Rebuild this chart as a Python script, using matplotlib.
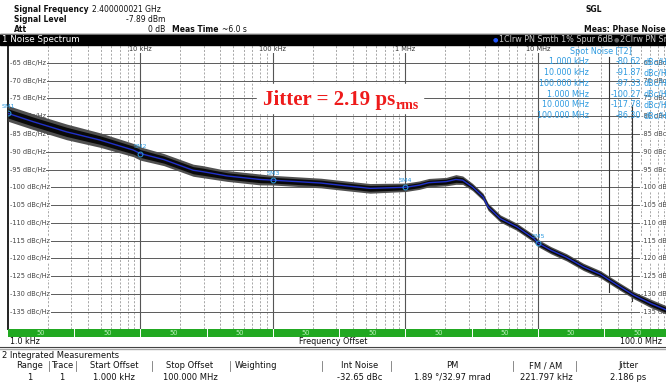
import matplotlib
matplotlib.use("Agg")
import matplotlib.pyplot as plt
import matplotlib.transforms as mtransforms
import numpy as np

W, H = 666, 385

# measured phase noise trace (offset in Hz, level in dBc/Hz) and the
# half-width of the raw noisy trace around it
offset_hz = [1e3, 1.54e3, 2.77e3, 4.95e3, 8.8e3, 1e4, 1.5e4, 2.5e4, 2.95e4,
             4.5e4, 8e4, 1e5, 2.3e5, 3.2e5, 5.4e5, 1e6, 1.27e6, 1.5e6,
             2.03e6, 2.4e6, 2.7e6, 3.2e6, 3.85e6, 4.2e6, 5.2e6, 6.9e6,
             9.3e6, 1e7, 1.25e7, 1.64e7, 2.2e7, 2.96e7, 4e7, 5.3e7, 7.1e7,
             9.4e7, 1e8]
trace_db = [-79.2, -81.5, -84.4, -86.7, -89.5, -90.5, -92.2, -95.2, -95.6,
            -96.8, -97.8, -98.0, -98.8, -99.4, -100.3, -100.0, -99.4, -98.7,
            -98.4, -97.8, -98.0, -99.9, -102.7, -105.5, -108.8, -111.1,
            -114.4, -115.7, -117.7, -119.7, -122.4, -124.5, -127.6, -130.4,
            -132.7, -134.6, -135.0]
spread_db = [1.3, 1.3, 1.3, 1.2, 1.1, 1.1, 1.0, 1.0, 1.0,
             0.9, 0.9, 0.8, 0.8, 0.8, 0.8, 0.7, 0.7, 0.7,
             0.7, 0.8, 0.7, 0.6, 0.6, 0.6, 0.6, 0.6,
             0.6, 0.6, 0.6, 0.6, 0.6, 0.6, 0.6, 0.6,
             0.7, 0.7, 0.7]

marker_names = ["SM1", "SM2", "SM3", "SM4", "SM5"]
marker_hz = [1e3, 1e4, 1e5, 1e6, 1e7]
marker_db = [-79.2, -90.5, -98.0, -100.0, -115.7]

spot_freqs = ["1.000 kHz", "10.000 kHz", "100.000 kHz",
              "1.000 MHz", "10.000 MHz", "100.000 MHz"]
spot_values = [-80.62, -91.87, -97.33, -100.27, -117.78, -86.30]

decade_hz = [1e4, 1e5, 1e6, 1e7]
decade_labels = ["10 kHz", "100 kHz", "1 MHz", "10 MHz"]
level_ticks = list(range(-65, -136, -5))
segment_labels = ["50"] * 10

table_header = ["Range", "Trace", "Start Offset", "Stop Offset", "Weighting",
                "Int Noise", "PM", "FM / AM", "Jitter"]
table_row = ["1", "1", "1.000 kHz", "100.000 MHz", "",
             "-32.65 dBc", "1.89 \u00b0/32.97 mrad", "221.797 kHz", "2.186 ps"]

jitter_ps = 2.19

CYAN = "#2f9be0"
plt.rcParams["font.family"] = ["DejaVu Sans"]


def px_box(x0, y0, x1, y1):
    return [x0 / W, 1 - y1 / H, (x1 - x0) / W, (y1 - y0) / H]


fig = plt.figure(figsize=(W / 100, H / 100), dpi=100)
fig.patch.set_facecolor("white")

# main spectrum axes, 1 kHz .. 100 MHz, -140 .. -60 dBc/Hz
ax = fig.add_axes(px_box(8, 45.2, 670.5, 329.4))
ax.set_xscale("log")
ax.set_xlim(1e3, 1e8)
ax.set_ylim(-140, -60)
ax.set_xticks([])
ax.set_yticks([])
ax.minorticks_off()
for s in ["top", "right", "bottom"]:
    ax.spines[s].set_visible(False)
ax.spines["left"].set_color("#222")
ax.spines["left"].set_linewidth(1.4)

# overlay in pixel coordinates for the instrument chrome
ov = fig.add_axes([0, 0, 1, 1], zorder=5)
ov.set_xlim(0, W)
ov.set_ylim(H, 0)
ov.axis("off")

px_x_lvl_y = mtransforms.blended_transform_factory(ov.transData, ax.transData)
px_x_ax_y = mtransforms.blended_transform_factory(ov.transData, ax.transAxes)

# grid
for dec in range(3, 8):
    for m in range(2, 10):
        ax.axvline(m * 10 ** dec, color="#9a9a9a", lw=0.6,
                   ls=(0, (2.5, 2)), zorder=1)
for f in decade_hz:
    ax.axvline(f, color="#555", lw=0.8, zorder=1)
for v in level_ticks:
    if v % 20 == -10:
        ax.axhline(v, color="#bdbdbd", lw=1.8, zorder=1)
    else:
        ax.axhline(v, color="#5a5a5a", lw=0.7, zorder=1)

# second window lines and labels peeking through on the right
ax.plot([609, 609], [0.13, 0.96], transform=px_x_ax_y, color="#333",
        lw=0.8, zorder=1)
ax.plot([632, 632], [0.10, 0.79], transform=px_x_ax_y, color="#333",
        lw=0.8, zorder=1)
for v in level_ticks:
    ax.text(641, v, "%d dBc/Hz" % v, transform=px_x_lvl_y, fontsize=4.8,
            color="#444", ha="left", va="center", zorder=2,
            bbox=dict(facecolor="white", edgecolor="none", pad=0.4))

# level labels
for v in level_ticks:
    ax.text(10, v, "%d dBc/Hz" % v, transform=px_x_lvl_y, fontsize=4.8,
            color="#444", ha="left", va="center", zorder=2,
            bbox=dict(facecolor="white", edgecolor="none", pad=0.4))
for f, lab in zip(decade_hz, decade_labels):
    ax.text(f, 0.985, lab, transform=ax.get_xaxis_transform(), fontsize=4.8,
            color="#333", ha="center", va="center", zorder=2,
            bbox=dict(facecolor="white", edgecolor="none", pad=0.4))

# trace: raw noise band with smoothed trace on top
tr = np.array(trace_db)
sp = np.array(spread_db)
ax.fill_between(offset_hz, tr - 1.7 * sp, tr + 1.7 * sp, color="#505050",
                lw=0, zorder=3)
ax.fill_between(offset_hz, tr - sp, tr + sp, color="#0a0a0a", lw=0, zorder=3)
ax.plot(offset_hz, trace_db, color="#2030c8", lw=1.0, zorder=4)

# markers
ax.plot(marker_hz, marker_db, ls="none", marker="o", ms=3.5, mfc="none",
        mec=CYAN, mew=0.7, zorder=5)
for name, f, v in zip(marker_names, marker_hz, marker_db):
    ax.annotate(name, (f, v), xytext=(0, 5), textcoords="offset points",
                fontsize=4.6, color=CYAN, ha="center", va="center", zorder=5)

# spot noise readout
ov.text(601, 51, "Spot Noise [T2]", fontsize=5.8, color=CYAN, ha="center",
        va="center")
for i, (fl, val) in enumerate(zip(spot_freqs, spot_values)):
    y = 61.7 + i * 10.8
    ov.text(589, y, fl, fontsize=5.8, color=CYAN, ha="right", va="center")
    ov.text(641, y, "%.2f" % val, fontsize=5.8, color=CYAN, ha="right",
            va="center")
    ov.text(643, y, "dBc/Hz", fontsize=5.8, color=CYAN, ha="left",
            va="center")

# jitter annotation
ov.add_patch(plt.Rectangle((257, 84), 166, 29, color="white", zorder=3))
jt = ov.text(263, 105, "Jitter = %.2f ps" % jitter_ps, color="#ee1b1b",
             fontsize=15, fontweight="bold", family="Liberation Serif",
             ha="left", va="baseline", zorder=4)
fig.canvas.draw()
bb = jt.get_window_extent()
ov.text(bb.x1 + 0.5, 109, "rms", color="#ee1b1b", fontsize=10,
        fontweight="bold", family="Liberation Serif", ha="left",
        va="baseline", zorder=4)

# header block
hdr = dict(fontsize=5.5, color="#111", va="center")
ov.text(14, 9, "Signal Frequency", fontweight="bold", ha="left", **hdr)
ov.text(92, 9, "2.400000021 GHz", ha="left", **hdr)
ov.text(14, 19, "Signal Level", fontweight="bold", ha="left", **hdr)
ov.text(165, 19, "-7.89 dBm", ha="right", **hdr)
ov.text(14, 29.5, "Att", fontweight="bold", ha="left", **hdr)
ov.text(165, 29.5, "0 dB", ha="right", **hdr)
ov.text(172, 29.5, "Meas Time", fontweight="bold", ha="left", **hdr)
ov.text(222, 29.5, "~6.0 s", ha="left", **hdr)
ov.text(586, 10, "SGL", fontweight="bold", ha="left", **hdr)
ov.text(584, 29.5, "Meas: Phase Noise", fontweight="bold", ha="left", **hdr)

# window title bar
ov.add_patch(plt.Rectangle((0, 34.3), W, 10.4, color="black", zorder=2))
ov.plot([0, W], [34.3, 34.3], color="#888", lw=0.6, zorder=3)
ov.text(2, 39.6, "1 Noise Spectrum", color="white", fontsize=6.3,
        ha="left", va="center", zorder=3)
ov.text(493, 39.6, "\u25cf", color="#2255ff", fontsize=4.5, ha="left",
        va="center", zorder=3)
ov.text(499, 39.6, "1Clrw PN Smth 1% Spur 6dB", color="#c8c8c8",
        fontsize=5.8, ha="left", va="center", zorder=3)
ov.text(614, 39.6, "\u25cf", color="#666", fontsize=4.5, ha="left",
        va="center", zorder=3)
ov.text(620, 39.6, "2Clrw PN Smth 1%", color="#c8c8c8", fontsize=5.8,
        ha="left", va="center", zorder=3)

# averaging segment bar below the trace, half a decade per segment
seg = fig.add_axes(px_box(8, 329.4, 670.5, 336.5), sharex=ax)
seg.set_ylim(0, 1)
seg.axis("off")
seg.set_facecolor("none")
for i, lab in enumerate(segment_labels):
    lo, hi = 10 ** (3 + 0.5 * i), 10 ** (3.5 + 0.5 * i)
    seg.axvspan(lo, hi, color="#21a821", lw=0)
    if i > 0:
        seg.axvline(lo, color="white", lw=0.7)
    seg.text(np.sqrt(lo * hi), 0.5, lab, fontsize=4.8, color="#b8f0b8",
             ha="center", va="center")

# frequency axis caption row
ov.text(10, 341.5, "1.0 kHz", fontsize=5.8, color="#111", ha="left",
        va="center")
ov.text(333, 341.5, "Frequency Offset", fontsize=5.8, color="#111",
        ha="center", va="center")
ov.text(662, 341.5, "100.0 MHz", fontsize=5.8, color="#111", ha="right",
        va="center")
ov.plot([0, W], [346.5, 346.5], color="#444", lw=0.8)
ov.plot([0, W], [348.6, 348.6], color="#aaa", lw=1.0)

# integrated measurement table
ov.text(2, 355, "2 Integrated Measurements", fontsize=6, color="#111",
        ha="left", va="center")
col_x = [30, 62, 114, 190, 256, 360, 452, 546, 628]
sep_x = [49, 76, 152, 230, 322, 391, 513, 576]
for x, h, r in zip(col_x, table_header, table_row):
    ov.text(x, 366, h, fontsize=6, color="#111", ha="center", va="center")
    ov.text(x, 377, r, fontsize=6, color="#111", ha="center", va="center")
for x in sep_x:
    ov.plot([x, x], [361, 371], color="#777", lw=0.6)

fig.savefig("out.png", dpi=100)
